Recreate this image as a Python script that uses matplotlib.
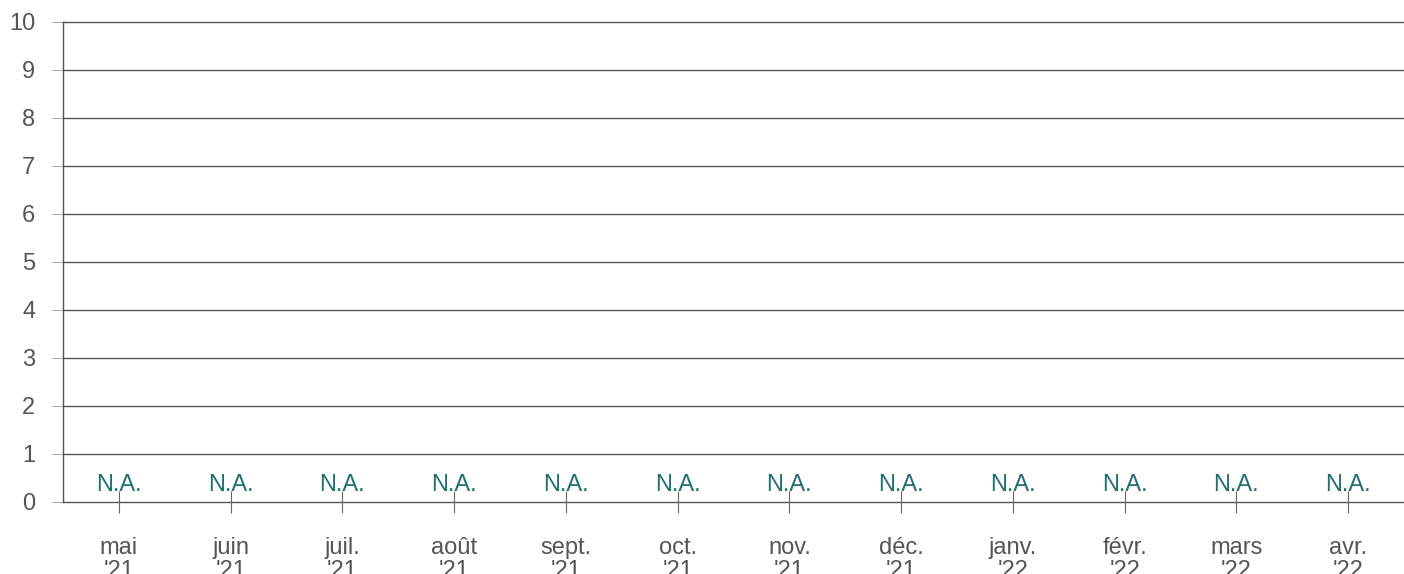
import matplotlib
matplotlib.use("Agg")
import matplotlib.pyplot as plt
import numpy as np

plt.rcParams['font.family'] = ['Liberation Sans', 'DejaVu Sans']

months = ["mai\n'21", "juin\n'21", "juil.\n'21", "août\n'21", "sept.\n'21", "oct.\n'21",
          "nov.\n'21", "déc.\n'21", "janv.\n'22", "févr.\n'22", "mars\n'22", "avr.\n'22"]
values = [None] * 12  # no data available
na_label = "N.A."
yticks = list(range(0, 11))

fig = plt.figure(figsize=(14.04, 5.74), dpi=100)
ax = fig.add_axes([63/1404, 1 - 502/574, (1404-63)/1404, 480/574])

x = np.arange(len(months))
ax.set_xlim(-0.5, len(months) - 0.5)
ax.set_ylim(0, 10)

for yv in yticks:
    ax.axhline(yv, color='#555555', lw=1.0, zorder=1, clip_on=False)

for xi, v in zip(x, values):
    if v is None:
        ax.text(xi, 0.12, na_label, ha='center', va='bottom', color='#1f6f73', fontsize=17, zorder=3)

ax.set_yticks(yticks)
ax.set_yticklabels([str(t) for t in yticks])
ax.set_xticks(x)
ax.set_xticklabels(months, linespacing=1.1)

for s in ['top', 'right', 'bottom']:
    ax.spines[s].set_visible(False)
ax.spines['left'].set_color('#555555')
ax.spines['left'].set_linewidth(1.0)

ax.tick_params(axis='y', length=8, color='#aaaaaa', labelcolor='#555555', labelsize=17, pad=12)
ax.tick_params(axis='x', direction='inout', length=16, color='#666666', labelcolor='#555555',
               labelsize=17, pad=17)

fig.savefig("out.png", dpi=100)
